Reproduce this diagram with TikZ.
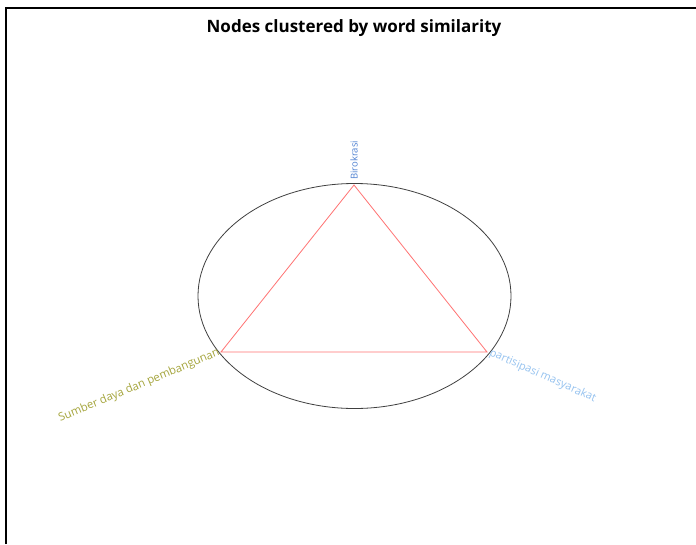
\documentclass[tikz,border=0pt]{standalone}
\usepackage{fontspec}
\setmainfont{Open Sans}
\begin{document}
\begin{tikzpicture}[x=1pt,y=-1pt,
  edge/.style={draw=red!55!white, line width=0.8pt},
  lbl/.style={inner sep=1pt, font=\fontsize{11}{12}\selectfont}]
\useasboundingbox (0,0) rectangle (696,544);
\fill[white] (0,0) rectangle (696,544);
\draw[line width=1.2pt] (6,544) -- (6,8) -- (696,8);
\node[font=\bfseries\fontsize{17}{19}\selectfont] (title) at (354,28) {Nodes clustered by word similarity};
\draw[black!75, line width=0.8pt] (354.5,296) ellipse [x radius=156.5, y radius=112.5];
\coordinate (b) at (354,185);
\coordinate (s) at (221,352);
\coordinate (p) at (487,352);
\draw[edge] (b) -- (s) -- (p) -- cycle;
\node[lbl, text={rgb,255:red,80;green,130;blue,210}, anchor=west, rotate=90, font=\fontsize{9.5}{10}\selectfont] (lb) at ([yshift=4]b) {Birokrasi};
\node[lbl, text={rgb,255:red,165;green,165;blue,60}, anchor=east, rotate=22.6, font=\fontsize{11.3}{12}\selectfont] (ls) at ([xshift=-1]s) {Sumber daya dan pembangunan};
\node[lbl, text={rgb,255:red,150;green,195;blue,240}, anchor=west, rotate=-24] (lp) at ([xshift=2]p) {partisipasi masyarakat};
\end{tikzpicture}
\end{document}
